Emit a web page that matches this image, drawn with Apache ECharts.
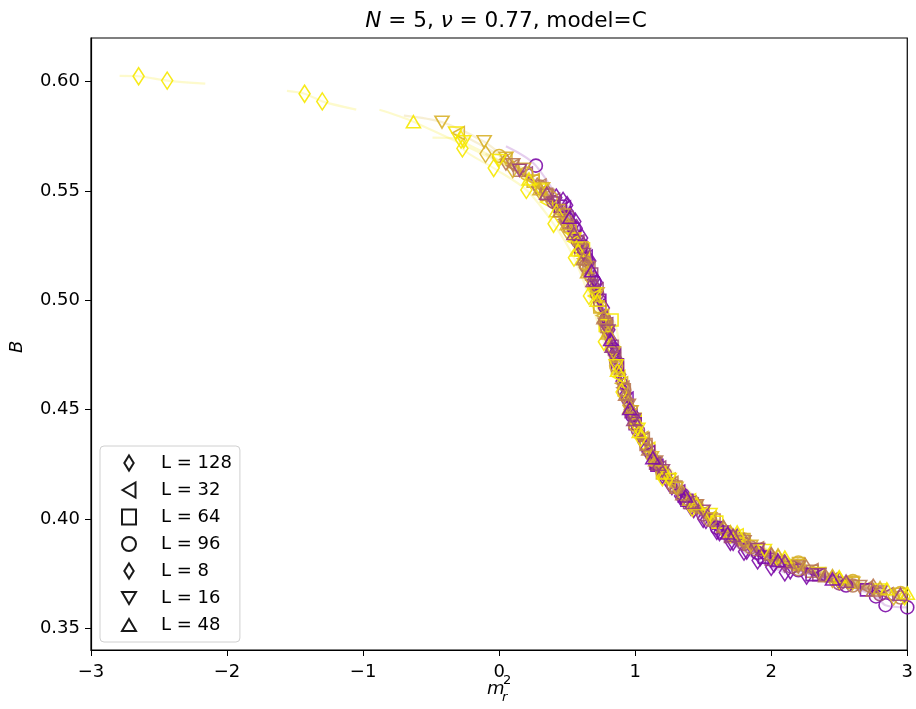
<!DOCTYPE html>
<html><head><meta charset="utf-8">
<script src="https://cdn.jsdelivr.net/npm/echarts@6/dist/echarts.min.js"></script>
<style>html,body{margin:0;padding:0;background:#fff}#c{width:916px;height:709px}</style>
</head><body><div id="c"></div>
<script>
// ---- Data: each group = [t (colour parameter 0=purple..1=yellow), points [[m_r^2, B],...], optional extra fit-line points]
const L128 = [
  [0, [[0.42,.547],[0.47,.5455],[0.52,.539],[0.57,.533],[0.62,.525],[0.66,.518],[0.70,.510],[0.74,.501],[0.78,.492],[0.82,.482],[0.86,.472],[0.90,.463],[0.94,.454],[0.98,.447],[1.03,.439],[1.08,.432],[1.14,.426],[1.2,.420],[1.27,.415],[1.35,.410],[1.43,.4045],[1.52,.3995],[1.62,.394],[1.72,.3895],[1.82,.3855],[1.92,.3825],[2.02,.3795],[2.14,.3765],[2.26,.374]]],
  [0, [[0.5,.5435],[0.56,.536],[0.61,.5285],[0.67,.518],[0.72,.508],[0.77,.4965],[0.81,.4865],[0.85,.476],[0.89,.466],[0.93,.457],[0.97,.449],[1.01,.4425],[1.06,.435],[1.12,.4285],[1.18,.4225],[1.25,.4165],[1.33,.4105],[1.41,.4055],[1.5,.400],[1.6,.3945],[1.7,.3895],[1.8,.385],[1.9,.381],[2.0,.378],[2.1,.3755]]],
  [0.25, [[0.35,.5495],[0.55,.531],[0.7,.506],[0.85,.4745],[1.0,.444],[1.2,.4215],[1.45,.4055],[1.75,.3915],[2.1,.3795],[2.5,.3715]]]
];
const L32 = [
  [0.75, [[-0.3,.5765],[0.05,.5645],[0.25,.555],[0.45,.540],[0.62,.519],[0.76,.493],[0.9,.462],[1.05,.437],[1.25,.418],[1.5,.403],[1.8,.389],[2.15,.3785],[2.55,.3705]]],
  [0.25, [[0.2,.558],[0.4,.546],[0.58,.527],[0.72,.505],[0.85,.475],[1.0,.444],[1.18,.4235],[1.42,.4065],[1.7,.3915],[2.05,.3805],[2.45,.3725],[2.85,.3655]]],
  [1, [[0.35,.545],[0.55,.527],[0.7,.502],[0.88,.465],[1.1,.432],[1.4,.4085],[1.75,.3925],[2.2,.379]]],
  [0.5, [[0.1,.5615],[0.3,.5525],[0.48,.537],[0.63,.517],[0.77,.490],[0.91,.460],[1.06,.4365],[1.27,.4165],[1.55,.4005],[1.9,.3865],[2.3,.3765],[2.7,.3685]]],
  [0, [[0.48,.5425],[0.64,.520],[0.79,.489],[0.94,.455],[1.1,.4305],[1.32,.4125],[1.6,.396],[1.95,.383],[2.35,.3745]]]
];
const L64 = [
  [0.5, [[0.15,.5595],[0.35,.5485],[0.52,.534],[0.66,.515],[0.79,.488],[0.92,.459],[1.08,.434],[1.3,.4145],[1.58,.3995],[1.9,.386],[2.3,.376]]],
  [0.75, [[0.25,.5545],[0.45,.541],[0.6,.523],[0.74,.497],[0.87,.469],[1.0,.444],[1.2,.421],[1.45,.406],[1.8,.3905],[2.2,.3795],[2.6,.371]]],
  [1, [[0.62,.5235],[0.78,.4885],[0.83,.491],[1.0,.4455],[1.6,.3985]]],
  [0.25, [[0.5,.538],[0.68,.512],[0.83,.479],[0.97,.449],[1.15,.4255],[1.4,.4075],[1.7,.392],[2.0,.3815],[2.35,.3745]]],
  [0, [[0.45,.543],[0.6,.5245],[0.74,.500],[0.87,.4705],[1.0,.4435],[1.16,.4245],[1.38,.4085],[1.65,.394],[1.95,.3825],[2.3,.3745],[2.7,.3675]]]
];
const L96 = [
  [0, [[0.27,.5616],[0.55,.533],[0.7,.5085],[0.84,.4775],[0.98,.447],[1.15,.4255],[1.35,.411],[1.6,.396],[1.9,.3845],[2.2,.3765],[2.55,.3695],[2.77,.3645],[2.84,.3605],[3.0,.3595]], [[0.05,.5705]]],
  [0.5, [[0.3,.552],[0.5,.536],[0.64,.516],[0.78,.490],[0.92,.459],[1.08,.434],[1.28,.4155],[1.55,.3995],[1.85,.387],[2.2,.377],[2.6,.3695],[2.95,.364]]],
  [0.25, [[0.4,.545],[0.58,.527],[0.72,.503],[0.86,.472],[1.02,.4405],[1.22,.4205],[1.5,.402],[1.8,.3885],[2.15,.378],[2.5,.3705],[2.8,.3655]]],
  [0.75, [[0.0,.566],[0.2,.558],[0.38,.547],[0.52,.533],[0.63,.517],[0.74,.497],[0.86,.470],[1.0,.443],[1.2,.4215],[1.45,.406],[1.8,.3905],[2.2,.380],[2.6,.3715],[2.95,.366]]]
];
const L8 = [
  [1, [[-2.65,.6025],[-2.44,.6005]], [[-2.79,.6027],[-2.16,.5991]]],
  [1, [[-1.43,.5945],[-1.30,.591]], [[-1.56,.5958],[-1.05,.5872]]],
  [1, [[-0.28,.5735],[-0.27,.5695],[-0.04,.5605],[0.2,.5505],[0.4,.535],[0.55,.5195],[0.66,.502],[0.77,.481],[0.9,.458],[1.04,.437],[1.2,.419],[1.42,.405],[1.7,.393],[2.05,.382],[2.5,.372],[2.98,.3645]], [[-0.49,.5744]]],
  [0.75, [[-0.1,.567],[0.1,.560],[0.3,.550],[0.5,.532],[0.65,.512],[0.8,.484],[0.95,.452],[1.12,.428],[1.35,.411],[1.65,.395],[2.0,.383],[2.45,.3725],[2.9,.3645]]],
  [0.5, [[0.05,.5635],[0.28,.552],[0.48,.536],[0.63,.515],[0.79,.486],[0.96,.450],[1.16,.4255],[1.45,.4065],[1.8,.3895],[2.25,.378],[2.75,.3685]]]
];
const L16 = [
  [0.75, [[-0.42,.5815],[-0.11,.5725],[0.05,.565],[0.18,.560],[0.32,.551],[0.47,.539],[0.6,.524],[0.72,.503],[0.84,.476],[0.97,.449],[1.12,.428],[1.3,.414],[1.55,.400],[1.85,.3875],[2.2,.3785],[2.6,.3705],[2.95,.3655]], [[-0.7,.5845]]],
  [1, [[-0.32,.5765],[-0.26,.5725],[0.0,.564],[0.3,.5505],[0.55,.528],[0.7,.503],[0.86,.470],[1.02,.441],[1.25,.418],[1.55,.402],[1.95,.3855],[2.35,.375],[2.8,.3675]]],
  [0.5, [[0.1,.562],[0.35,.548],[0.6,.523],[0.78,.489],[0.95,.452],[1.15,.426],[1.45,.406],[1.8,.3895],[2.2,.378],[2.65,.369]]],
  [0.25, [[0.15,.5595],[0.4,.5445],[0.62,.521],[0.8,.486],[0.99,.4455],[1.2,.422],[1.5,.4035],[1.9,.386],[2.35,.3745],[2.8,.3665]]]
];
const L48 = [
  [1, [[-0.63,.5817],[0.22,.5555],[0.42,.541],[0.58,.523],[0.72,.5],[0.87,.468],[1.03,.440],[1.22,.421],[1.45,.407],[1.75,.394],[2.1,.3825],[2.5,.3735],[2.85,.368],[3.0,.366]], [[-0.88,.5872]]],
  [0.75, [[0.3,.551],[0.5,.535],[0.65,.513],[0.8,.485],[0.96,.451],[1.15,.427],[1.4,.409],[1.7,.394],[2.05,.3835],[2.45,.374],[2.8,.3685]]],
  [0.5, [[0.45,.541],[0.62,.519],[0.77,.492],[0.93,.457],[1.1,.432],[1.35,.4115],[1.65,.3965],[2.0,.384],[2.4,.374],[2.75,.3675]]],
  [0.25, [[0.35,.549],[0.55,.5305],[0.69,.509],[0.83,.479],[0.99,.4455],[1.17,.425],[1.42,.4075],[1.72,.3925],[2.1,.3805],[2.55,.3715],[2.95,.3655]]],
  [0, [[0.52,.538],[0.68,.5135],[0.82,.482],[0.96,.4505],[1.13,.428],[1.37,.4105],[1.68,.3935],[2.05,.381],[2.45,.3725]]]
];
const seriesNames = ['L = 128','L = 32','L = 64','L = 96','L = 8','L = 16','L = 48'];
const seriesData = [L128, L32, L64, L96, L8, L16, L48];
const xTicks = [-3,-2,-1,0,1,2,3];
const yTicks = [0.35,0.40,0.45,0.50,0.55,0.60];

// ---- Styles
const DIAMOND='path://M5,0L10,8L5,16L0,8Z';
const markers = [
  {symbol:DIAMOND, size:[11,17]},
  {symbol:'path://M0,1L1.732,0L1.732,2Z', size:[12,13]},
  {symbol:'rect', size:[12,12]},
  {symbol:'circle', size:[13,13]},
  {symbol:DIAMOND, size:[11,17]},
  {symbol:'path://M0,0L2,0L1,1.732Z', size:[14,12]},
  {symbol:'path://M1,0L2,1.732L0,1.732Z', size:[14,12]}
];
const C0=[125,12,168], C1=[246,232,0];
function colorAt(t){const c=C0.map((v,i)=>Math.round(v+(C1[i]-v)*t));return `rgb(${c[0]},${c[1]},${c[2]})`;}

const series=[];
seriesData.forEach((groups,si)=>{
  groups.forEach(g=>{
    const pts=g[1].concat(g[2]||[]).slice().sort((a,b)=>a[0]-b[0]);
    series.push({type:'line',data:pts,showSymbol:false,silent:true,smooth:0.3,z:1,
      lineStyle:{color:colorAt(g[0]),width:2.2,opacity:0.2}});
  });
});
seriesData.forEach((groups,si)=>{
  const data=[];
  groups.forEach(g=>g[1].forEach(p=>data.push({value:p,itemStyle:{borderColor:colorAt(g[0])}})));
  series.push({type:'scatter',name:seriesNames[si],data,symbol:markers[si].symbol,symbolSize:markers[si].size,
    symbolKeepAspect:false,z:3,
    itemStyle:{color:'rgba(0,0,0,0)',borderColor:'#000',borderWidth:1.6,opacity:0.9},
    emphasis:{disabled:true}});
});

const chart=echarts.init(document.getElementById('c'),null,{renderer:'canvas'});
const FONT='DejaVu Sans';
chart.setOption({
  animation:false,
  backgroundColor:'#fff',
  textStyle:{fontFamily:FONT},
  title:{text:'{i|N} = 5, {i|ν} = 0.77, model=C',left:501,top:5,textAlign:'center',
    textStyle:{fontFamily:FONT,fontSize:21.6,fontWeight:'normal',color:'#000',
      rich:{i:{fontFamily:FONT,fontSize:21.6,fontStyle:'italic',color:'#000'}}}},
  grid:{left:91,right:6,top:38,bottom:59,show:true,borderColor:'#000',borderWidth:1.2,backgroundColor:'#fff'},
  legend:{data:seriesNames,orient:'vertical',left:100,top:446,padding:[8,8,8,21],
    itemWidth:14,itemHeight:15,itemGap:9,symbolKeepAspect:true,
    borderColor:'#d0d0d0',borderWidth:1,borderRadius:4,backgroundColor:'#fff',
    textStyle:{fontFamily:FONT,fontSize:18,lineHeight:18,color:'#000',padding:[0,0,0,20]},selectedMode:false},
  xAxis:{type:'value',min:-3,max:3,interval:1,
    axisLine:{show:true,onZero:false,lineStyle:{color:'#000',width:1.2}},
    axisTick:{show:true,length:6,lineStyle:{color:'#000'}},
    splitLine:{show:false},
    axisLabel:{fontFamily:FONT,fontSize:18,color:'#000',margin:13,
      customValues:xTicks,formatter:v=>v<0?'\u2212'+Math.abs(v):String(v)}},
  yAxis:{type:'value',min:0.34,max:0.62,
    axisLine:{show:true,onZero:false,lineStyle:{color:'#000',width:1.2}},
    axisTick:{show:true,length:6,lineStyle:{color:'#000'},customValues:yTicks},
    splitLine:{show:false},
    axisLabel:{fontFamily:FONT,fontSize:18,color:'#000',margin:11,customValues:yTicks,formatter:v=>v.toFixed(2)}},
  graphic:[
    {type:'text',left:487,top:680,style:{text:'m',font:'italic 18px "DejaVu Sans"',fill:'#000'}},
    {type:'text',left:503,top:674,style:{text:'2',font:'13px "DejaVu Sans"',fill:'#000'}},
    {type:'text',left:502,top:691,style:{text:'r',font:'italic 13px "DejaVu Sans"',fill:'#000'}},
    {type:'text',x:8,y:353,rotation:Math.PI/2,style:{text:'B',font:'italic 18px "DejaVu Sans"',fill:'#000'}}
  ],
  series
});
</script></body></html>
